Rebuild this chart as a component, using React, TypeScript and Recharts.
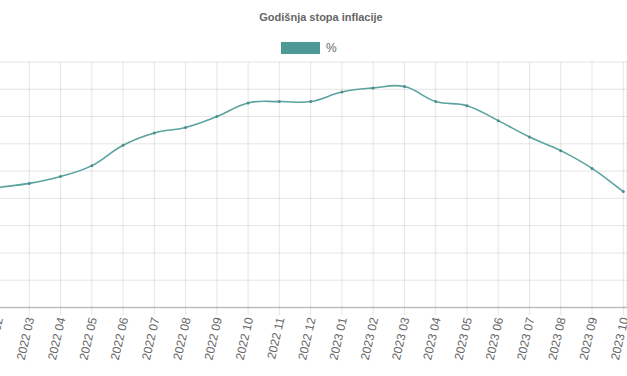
import { LineChart, Line, XAxis, YAxis, CartesianGrid } from 'recharts';

const months = [
    '2022 02', '2022 03', '2022 04', '2022 05', '2022 06', '2022 07', '2022 08',
    '2022 09', '2022 10', '2022 11', '2022 12', '2023 01', '2023 02', '2023 03',
    '2023 04', '2023 05', '2023 06', '2023 07', '2023 08', '2023 09', '2023 10',
];
const inflation = [
    8.8, 9.1, 9.6, 10.4, 11.9, 12.8, 13.2, 14.0, 15.0, 15.1, 15.1,
    15.8, 16.1, 16.2, 15.1, 14.8, 13.7, 12.5, 11.5, 10.2, 8.5,
];
const yTicks = [0, 2, 4, 6, 8, 10, 12, 14, 16];

const data = months.map((m, i) => ({ month: m, value: inflation[i] }));

const FONT = '"Liberation Sans", Arial, Helvetica, sans-serif';
const LINE_COLOR = '#5aa39f';
const BOX_COLOR = '#4b9894';

// bezier like the old chart.js line (tension 0.4)
const splineCurve = (ctx: any) => {
    let pts: number[][] = [];
    return {
        areaStart() {},
        areaEnd() {},
        lineStart() { pts = []; },
        point(x: number, y: number) { pts.push([+x, +y]); },
        lineEnd() {
            const n = pts.length;
            if (!n) return;
            const t = 0.4;
            const cps = pts.map((p, i) => {
                const prev = pts[Math.max(i - 1, 0)];
                const next = pts[Math.min(i + 1, n - 1)];
                const d01 = Math.hypot(p[0] - prev[0], p[1] - prev[1]);
                const d12 = Math.hypot(next[0] - p[0], next[1] - p[1]);
                let s01 = d01 / (d01 + d12);
                let s12 = d12 / (d01 + d12);
                if (!isFinite(s01)) s01 = 0;
                if (!isFinite(s12)) s12 = 0;
                const fa = t * s01;
                const fb = t * s12;
                return {
                    a: [p[0] - fa * (next[0] - prev[0]), p[1] - fa * (next[1] - prev[1])],
                    b: [p[0] + fb * (next[0] - prev[0]), p[1] + fb * (next[1] - prev[1])],
                };
            });
            ctx.moveTo(pts[0][0], pts[0][1]);
            for (let i = 1; i < n; i++) {
                ctx.bezierCurveTo(cps[i - 1].b[0], cps[i - 1].b[1], cps[i].a[0], cps[i].a[1], pts[i][0], pts[i][1]);
            }
        },
    };
};

function MonthTick({ x, y, payload }: any) {
    return (
        <g transform={`translate(${x + 1},${y})`}>
            <text
                transform="rotate(-77)"
                x={0}
                y={0}
                dy="0.35em"
                textAnchor="end"
                fill="#666"
                fontSize={12}
                fontFamily={FONT}
            >
                {payload.value}
            </text>
        </g>
    );
}

export default function App() {
    return (
        <div style={{ position: 'absolute', top: 0, left: 0, width: 627, height: 376, overflow: 'hidden', background: '#fff', fontFamily: FONT }}>
            <div style={{ position: 'absolute', top: 11, left: 0, width: 642, textAlign: 'center', fontSize: 11, lineHeight: '12px', fontWeight: 'bold', color: '#666' }}>
                Godišnja stopa inflacije
            </div>
            <div style={{ position: 'absolute', top: 42, left: 281, display: 'flex', alignItems: 'center', fontSize: 12, color: '#666' }}>
                <span style={{ display: 'inline-block', width: 39, height: 12, background: BOX_COLOR }} />
                <span style={{ marginLeft: 6, lineHeight: '12px' }}>%</span>
            </div>
            <div style={{ position: 'absolute', top: 0, left: -2.3 }}>
                <LineChart width={629} height={376} data={data} margin={{ top: 62, right: 0, bottom: 0, left: 0 }}>
                    <CartesianGrid stroke="rgba(0,0,0,0.1)" />
                    <XAxis
                        dataKey="month"
                        interval={0}
                        height={68.5}
                        padding={{ left: 0, right: 3.7 }}
                        tick={<MonthTick />}
                        tickSize={8}
                        tickMargin={2}
                        tickLine={{ stroke: 'rgba(0,0,0,0.1)' }}
                        axisLine={{ stroke: 'rgba(0,0,0,0.2)', strokeWidth: 1.5 }}
                    />
                    <YAxis hide domain={[0, 18]} ticks={yTicks} />
                    <Line
                        type={splineCurve as any}
                        dataKey="value"
                        stroke={LINE_COLOR}
                        strokeWidth={1.6}
                        dot={{ r: 1.5, fill: '#4a908c', stroke: 'none' }}
                        isAnimationActive={false}
                    />
                </LineChart>
            </div>
        </div>
    );
}
